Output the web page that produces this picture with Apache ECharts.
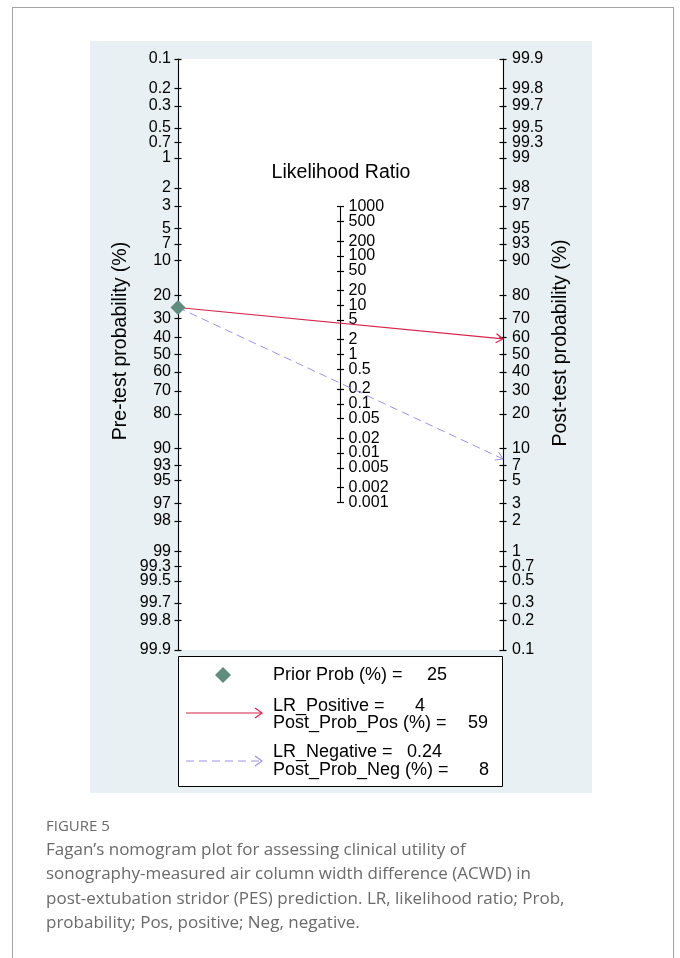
<!DOCTYPE html>
<html><head><meta charset="utf-8">
<script src="https://cdn.jsdelivr.net/npm/echarts@6/dist/echarts.min.js"></script>
<style>
html,body{margin:0;padding:0;background:#fff;}
#frame{position:absolute;left:12px;top:7px;width:660px;height:1000px;border:1.5px solid #a3a3a3;border-bottom:none;}
#chart{position:absolute;left:0;top:0;width:680px;height:958px;}
.cap{position:absolute;left:46px;font-family:"Open Sans",sans-serif;color:#6a6a6a;white-space:nowrap;}
</style></head><body>
<div id="frame"></div>
<div id="chart"></div>
<div class="cap" style="top:815px;font-size:15px;">FIGURE 5</div>
<div class="cap" style="top:837px;font-size:17px;line-height:24.4px;">Fagan’s nomogram plot for assessing clinical utility of<br>sonography-measured air column width difference (ACWD) in<br>post-extubation stridor (PES) prediction. LR, likelihood ratio; Prob,<br>probability; Pos, positive; Neg, negative.</div>
<script>
// ---- data ----
const preTickLabels = [0.1,0.2,0.3,0.5,0.7,1,2,3,5,7,10,20,30,40,50,60,70,80,90,93,95,97,98,99,99.3,99.5,99.7,99.8,99.9];
const postTickLabels = [99.9,99.8,99.7,99.5,99.3,99,98,97,95,93,90,80,70,60,50,40,30,20,10,7,5,3,2,1,0.7,0.5,0.3,0.2,0.1];
const lrTickLabels = [1000,500,200,100,50,20,10,5,2,1,0.5,0.2,0.1,0.05,0.02,0.01,0.005,0.002,0.001];
const priorProb = 25;
const lrPositive = 4;
const postProbPos = 59;
const lrNegative = 0.24;
const postProbNeg = 8;

// ---- scales ----
function logit(p){ return Math.log(p/(100-p)); }
const LIM = logit(99.9);                 // probability axes span 0.1 .. 99.9 %
const LRLIM = Math.log(1000)/2;          // LR axis spans 0.001 .. 1000 (half slope)
const prePositions = preTickLabels.map(logit);
const postPositions = postTickLabels.map(p => -logit(p));
const lrPositions = lrTickLabels.map(r => -Math.log(r)/2);

// layout
const PLOT_TOP = 59, PLOT_H = 591, PLOT_L = 178, PLOT_W = 325;
const PX_PER_UNIT = PLOT_H/(2*LIM);
const LR_TOP = PLOT_TOP + (LIM - LRLIM)*PX_PER_UNIT;
const LR_H = 2*LRLIM*PX_PER_UNIT;

function nearestLabel(labels, positions){
  return function(v){
    let bi = 0, bd = Infinity;
    positions.forEach((q,i)=>{ const d = Math.abs(q-v); if (d < bd){ bd = d; bi = i; } });
    return String(labels[bi]);
  };
}
const FONT = '"Liberation Sans", Arial, sans-serif';
const TICK = {color:'#000', width:1.2};
function axisSet(gridIndex, position, lim, positions, labels, margin){
  const common = {type:'value', gridIndex:gridIndex, min:-lim, max:lim, inverse:true, position:position, splitLine:{show:false}};
  const fmt = nearestLabel(labels, positions);
  const even = positions.filter((_, i) => i % 2 === 0);
  const odd = positions.filter((_, i) => i % 2 === 1);
  const labelAxis = vals => Object.assign({}, common, {
    axisLine:{show:false, onZero:false}, axisTick:{show:false},
    axisLabel:{show:true, customValues:vals, margin:margin, showMinLabel:true, showMaxLabel:true, hideOverlap:false,
               formatter:fmt, color:'#000', fontSize:16, fontFamily:FONT}
  });
  return [
    Object.assign({}, common, {
      axisLine:{show:true, onZero:false, lineStyle:{color:'#000', width:1.1}},
      axisTick:{show:true, inside:false, length:3.5, customValues:positions, lineStyle:TICK},
      axisLabel:{show:false}
    }),
    Object.assign({}, common, {
      axisLine:{show:false, onZero:false},
      axisTick:{show:true, inside:true, length:3.5, customValues:positions, lineStyle:TICK},
      axisLabel:{show:false}
    }),
    labelAxis(even),
    labelAxis(odd)
  ];
}

const RED = '#d7244d', BLUE = '#9d93e3', GREEN = '#5f8c7c';

function arrowRender(color, dash, width){
  return function(params, api){
    const p0 = api.coord([api.value(0), api.value(1)]);
    const p1 = api.coord([api.value(2), api.value(3)]);
    const dx = p1[0]-p0[0], dy = p1[1]-p0[1], len = Math.hypot(dx,dy);
    const ux = dx/len, uy = dy/len, hl = 7, hw = 4.5;
    const a = [p1[0]-ux*hl - uy*hw, p1[1]-uy*hl + ux*hw];
    const b = [p1[0]-ux*hl + uy*hw, p1[1]-uy*hl - ux*hw];
    const lineStyle = {stroke:color, lineWidth:width};
    if (dash) lineStyle.lineDash = dash;
    return {type:'group', children:[
      {type:'line', shape:{x1:p0[0], y1:p0[1], x2:p1[0], y2:p1[1]}, style:lineStyle},
      {type:'polyline', shape:{points:[a, p1, b]}, style:{stroke:color, lineWidth:width, fill:null}}
    ]};
  };
}

const chart = echarts.init(document.getElementById('chart'));
const yAxes = [].concat(
  axisSet(0, 'left', LIM, prePositions, preTickLabels, 7),
  axisSet(0, 'right', LIM, postPositions, postTickLabels, 9),
  axisSet(1, 'right', LRLIM, lrPositions, lrTickLabels, 8)
);

function legendArrow(y, color, dash){
  const st = {stroke:color, lineWidth:1.2};
  if (dash) st.lineDash = dash;
  return [
    {type:'line', z:12, shape:{x1:186, y1:y, x2:262, y2:y}, style:st},
    {type:'polyline', z:12, shape:{points:[[255,y-5],[262,y],[255,y+5]]}, style:{stroke:color, lineWidth:1.2, fill:null}}
  ];
}
function txt(x, y, s, size, align, rot){
  const el = {type:'text', x:x, y:y, z:12, style:{text:s, fill:'#000', fontSize:size, fontFamily:FONT, textAlign:align||'left', textVerticalAlign:'middle'}};
  if (rot) el.rotation = rot;
  return el;
}

chart.setOption({
  animation:false,
  grid:[
    {left:PLOT_L, top:PLOT_TOP, width:PLOT_W, height:PLOT_H, show:true, backgroundColor:'#fff', borderWidth:0},
    {left:PLOT_L + PLOT_W/2 - 1, top:LR_TOP, width:1, height:LR_H, show:false}
  ],
  xAxis:[
    {type:'value', gridIndex:0, min:0, max:1, show:false},
    {type:'value', gridIndex:1, min:0, max:1, show:false}
  ],
  yAxis: yAxes,
  graphic:[].concat(
    [{type:'rect', z:-10, shape:{x:90, y:41, width:502, height:752}, style:{fill:'#e8f0f3'}}],
    [txt(341, 173, 'Likelihood Ratio', 19.5, 'center')],
    [txt(121, 341, 'Pre-test probability (%)', 19.5, 'center', Math.PI/2)],
    [txt(561, 343, 'Post-test probability (%)', 19.5, 'center', Math.PI/2)],
    [{type:'rect', z:10, shape:{x:178.5, y:656.5, width:324, height:130}, style:{fill:'#fff', stroke:'#000', lineWidth:1}}],
    [{type:'polygon', z:12, shape:{points:[[223,667],[231,675],[223,683],[215,675]]}, style:{fill:GREEN}}],
    [txt(273, 675, 'Prior Prob (%) =', 18), txt(427, 675, String(priorProb), 18)],
    legendArrow(713, RED, null),
    [txt(273, 706, 'LR_Positive =', 18), txt(415, 706, String(lrPositive), 18)],
    [txt(273, 723, 'Post_Prob_Pos (%) =', 18), txt(468, 723, String(postProbPos), 18)],
    legendArrow(761, BLUE, [8,5]),
    [txt(273, 752, 'LR_Negative =', 18), txt(407, 752, String(lrNegative), 18)],
    [txt(273, 770, 'Post_Prob_Neg (%) =', 18), txt(479, 770, String(postProbNeg), 18)]
  ),
  series:[
    {type:'custom', name:'LR+', coordinateSystem:'cartesian2d', xAxisIndex:0, yAxisIndex:0, clip:false, z:3,
     renderItem:arrowRender(RED, null, 1.2),
     data:[[0, logit(priorProb), 1, -logit(postProbPos)]]},
    {type:'custom', name:'LR-', coordinateSystem:'cartesian2d', xAxisIndex:0, yAxisIndex:0, clip:false, z:3,
     renderItem:arrowRender(BLUE, [8,5], 1),
     data:[[0, logit(priorProb), 1, -logit(postProbNeg)]]},
    {type:'scatter', xAxisIndex:0, yAxisIndex:0, symbol:'diamond', symbolSize:15, z:5,
     itemStyle:{color:GREEN, opacity:1}, data:[[0, logit(priorProb)]]}
  ]
});
</script>
</body></html>
